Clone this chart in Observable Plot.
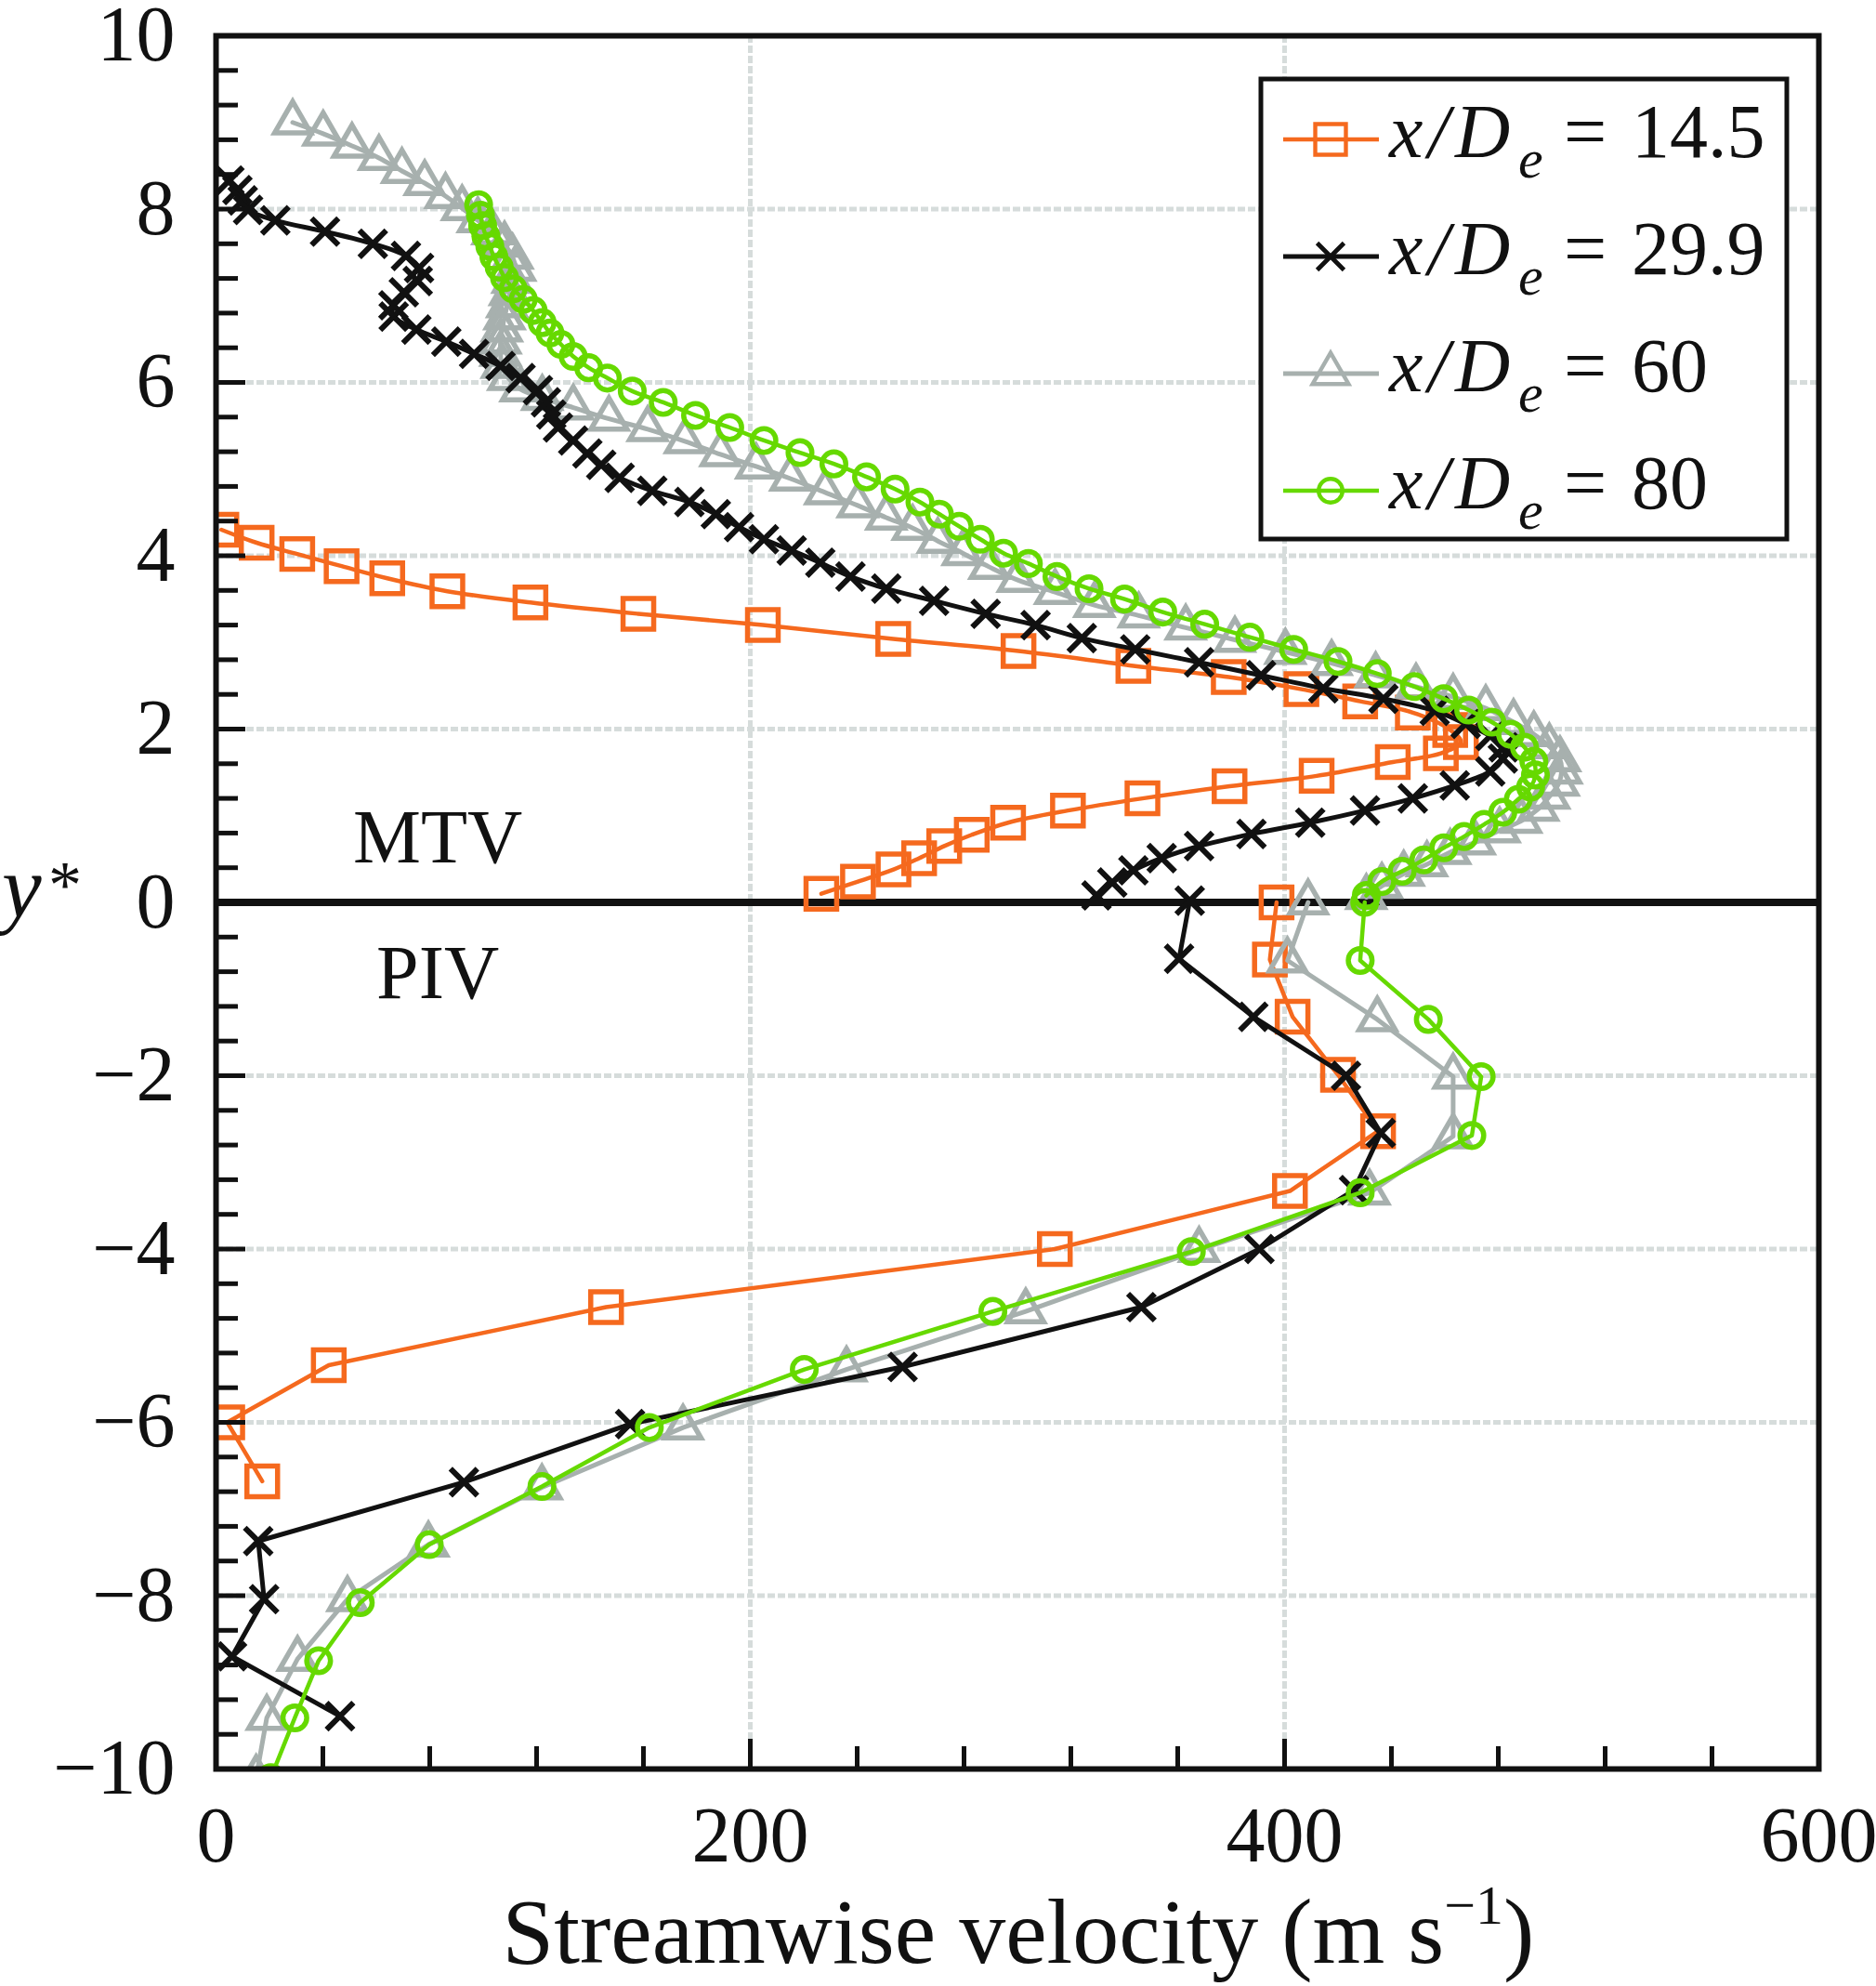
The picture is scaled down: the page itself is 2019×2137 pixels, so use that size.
<!DOCTYPE html>
<html>
<head>
<meta charset="utf-8">
<script src="https://cdn.jsdelivr.net/npm/d3@7"></script>
<script src="https://cdn.jsdelivr.net/npm/@observablehq/plot@0.6"></script>
<style>
  html, body { margin: 0; padding: 0; background: #fff; }
  #wrap { position: relative; width: 2019px; height: 2137px; overflow: hidden; background: #fff; }
  #wrap svg { display: block; }
  #overlay { position: absolute; left: 0; top: 0; pointer-events: none; }
</style>
</head>
<body>
<div id="wrap"></div>
<script>
// ---------- series meta ----------
const seriesLabels  = ["14.5", "29.9", "60", "80"];
const seriesColors  = ["#f5691e", "#111111", "#a7b0ae", "#66d900"];
const seriesSymbols = ["square", "times", "triangle", "circle"];

// ---------- MTV data (y* > 0) ----------
const mtvY_145 = [4.30,4.15,4.02,3.88,3.74,3.59,3.46,3.33,3.20,3.04,2.90,2.73,2.60,2.46,2.32,2.19,1.99,1.85,1.72,1.62,1.46,1.34,1.20,1.06,0.92,0.78,0.65,0.51,0.38,0.24,0.10];
const mtvU_145 = [2.0,15.2,30.4,47.0,64.1,86.6,117.7,158.1,204.7,253.5,300.4,343.4,379.1,406.3,428.3,448.0,462.0,466.0,458.5,440.5,412.0,379.4,346.8,318.9,296.5,282.9,272.6,263.2,253.6,240.3,226.6];

const mtvY_299 = [8.33,8.22,8.10,7.99,7.87,7.74,7.60,7.46,7.32,7.17,7.04,6.89,6.76,6.61,6.47,6.33,6.19,6.05,5.91,5.77,5.63,5.48,5.33,5.18,5.05,4.90,4.75,4.62,4.48,4.33,4.19,4.06,3.92,3.76,3.62,3.48,3.33,3.20,3.05,2.92,2.77,2.62,2.47,2.35,2.21,2.06,1.92,1.79,1.66,1.51,1.35,1.20,1.06,0.92,0.79,0.65,0.51,0.37,0.23,0.08];
const mtvU_299 = [5,8,10,12,22.2,40.8,58.7,71.1,76,75.5,70.3,66.4,66.5,75,86.2,96.6,106.5,114,120.5,123.5,125.5,128,133.7,139,144.2,151.1,163.3,177.2,187.1,195.8,205.1,215.5,226.2,237.5,250.9,268.8,288.1,306.8,324.1,344.1,368,391.2,414.5,437,456.2,467.8,477,482,481.7,477,463.7,448,430.1,409.6,387.6,368,354,343.4,335.5,329.6];

const mtvY_60 = [9.00,8.87,8.73,8.59,8.44,8.30,8.15,8.01,7.87,7.73,7.59,7.45,7.31,7.17,7.03,6.89,6.75,6.61,6.47,6.33,6.19,6.05,5.92,5.82,5.71,5.58,5.46,5.32,5.17,5.03,4.89,4.73,4.58,4.44,4.32,4.17,4.03,3.87,3.72,3.58,3.43,3.31,3.17,3.03,2.89,2.76,2.62,2.49,2.37,2.24,2.08,1.94,1.80,1.65,1.51,1.37,1.22,1.08,0.94,0.83,0.69,0.58,0.44,0.33,0.19,0.06];
const mtvU_60 = [28.7,40.1,50.9,61,69.6,78.1,85.9,92.1,98,103.5,108,111,112,111,110,109,108,107,106.5,106.5,107,109.4,114,122.1,133.7,147.1,161.6,175.5,188.8,202.2,215,228,240.2,250.9,260.8,270.2,279.5,289.5,300.1,314.1,328.8,345.4,363,381.4,400.3,417.6,434.1,449.2,463.1,475.3,485.7,493.3,499.1,503.1,503.7,502.6,499.1,495,488.6,480.5,471.2,462,453.3,444.6,436.4,430.6];

const mtvY_80 = [8.05,7.93,7.81,7.69,7.57,7.45,7.33,7.21,7.08,6.96,6.83,6.69,6.57,6.44,6.30,6.17,6.05,5.90,5.77,5.62,5.48,5.33,5.19,5.06,4.91,4.77,4.62,4.48,4.34,4.19,4.03,3.91,3.76,3.62,3.50,3.35,3.21,3.06,2.92,2.78,2.64,2.49,2.35,2.22,2.08,1.94,1.79,1.63,1.47,1.33,1.19,1.04,0.90,0.76,0.63,0.49,0.36,0.24,0.08];
const mtvU_80 = [98.3,99,99.8,101,102.5,104,106,108,111.2,115,118.7,122.1,125,129.1,133.7,139.5,146.5,155.8,167.4,179.5,192.3,205.1,218.6,231.3,243.5,254.2,263.5,270.8,278.2,286.1,294.8,304.1,314.8,326.8,340.1,354.4,370.1,387,403.4,420,434.7,448.6,459.6,468.9,477.6,484.6,489.8,493.3,493.9,492.1,487.5,481.7,474.7,467.2,459.6,452.1,444,436.4,430.6];

// ---------- PIV data (y* < 0) ----------
const pivY_145 = [0.0,-0.66,-1.32,-1.99,-2.64,-3.33,-4.0,-4.67,-5.34,-6.0,-6.68];
const pivU_145 = [397,394.5,403,420,435,402,314,146,42.2,4.2,17.3];

const pivY_299 = [0.02,-0.65,-1.32,-2.0,-2.66,-3.32,-4.0,-4.67,-5.36,-6.02,-6.69,-7.37,-8.04,-8.7,-9.39];
const pivU_299 = [364.5,360.5,388.3,423,436,426,390.6,346.4,257,155,92.8,15.8,18,6,46.4];

const pivY_60 = [0.0,-0.67,-1.35,-2.01,-2.7,-3.35,-4.01,-4.72,-5.39,-6.06,-6.75,-7.41,-8.04,-8.73,-9.41,-10.1];
const pivU_60 = [408.8,401.1,434.7,463.1,463.1,431.8,368,303.1,236,174.8,122,79.5,49.2,30.5,19,15];

const pivY_80 = [0.0,-0.67,-1.35,-2.01,-2.69,-3.35,-4.03,-4.72,-5.39,-6.06,-6.74,-7.41,-8.08,-8.75,-9.41,-10.1];
const pivU_80 = [430,428.3,453.8,473.6,470.1,428.3,365.1,290.8,220.2,162.2,122,79.8,54,38.4,29.5,20.5];

// ---------- ticks / annotations ----------
const xMajorTicks = [0, 200, 400, 600];
const yMajorTicks = [-10, -8, -6, -4, -2, 0, 2, 4, 6, 8, 10];
const xGridTicks = [200, 400];
const yGridTicks = [-8, -6, -4, -2, 2, 4, 6, 8];
const xMinorTicks = d3.range(0, 601, 40).filter(v => v % 200 !== 0);
const yMinorTicks = d3.range(-50, 51, 2).map(k => k / 5).filter(v => Math.abs(v % 2) > 1e-9);
const regionLabels = [{text: "MTV", u: 83, y: 0.74}, {text: "PIV", u: 83, y: -0.82}];

// ---------- style ----------
const lineWidth = [4.5, 5, 5, 4.5];
const markWidth = [5.5, 6, 5.5, 5.5];
const markR     = [18.6, 13.2, 14.4, 12.8];

const mtvY = [mtvY_145, mtvY_299, mtvY_60, mtvY_80];
const mtvU = [mtvU_145, mtvU_299, mtvU_60, mtvU_80];
const pivY = [pivY_145, pivY_299, pivY_60, pivY_80];
const pivU = [pivU_145, pivU_299, pivU_60, pivU_80];
const toRows = (ys, us) => ys.map((y, i) => ({y, u: us[i]}));

const fmt = d => d < 0 ? "\u2212" + Math.abs(d) : String(d);
const gridStyle = {stroke: "#d6dcdb", strokeOpacity: 1, strokeWidth: 5, strokeDasharray: "8,3"};
const serif = "'Liberation Serif', 'Times New Roman', serif";

const drawOrder = [0, 2, 1, 3];
const seriesMarks = drawOrder.flatMap(i => {
  const m = toRows(mtvY[i], mtvU[i]);
  const p = toRows(pivY[i], pivU[i]);
  const c = seriesColors[i];
  return [
    Plot.line(m, {x: "u", y: "y", stroke: c, strokeWidth: lineWidth[i], curve: "catmull-rom", clip: true}),
    Plot.line(p, {x: "u", y: "y", stroke: c, strokeWidth: lineWidth[i], clip: true}),
    Plot.dot(m.concat(p), {x: "u", y: "y", symbol: seriesSymbols[i], r: markR[i], stroke: c,
      strokeWidth: markWidth[i], fill: "none", clip: true})
  ];
});

const chart = Plot.plot({
  width: 2019,
  height: 2137,
  marginLeft: 232,
  marginRight: 62,
  marginTop: 38,
  marginBottom: 234,
  style: {fontFamily: serif, fontSize: "84px", color: "#111", background: "#fff"},
  x: {domain: [0, 600], label: null},
  y: {domain: [-10, 10], label: null},
  marks: [
    Plot.gridX(xGridTicks, gridStyle),
    Plot.gridY(yGridTicks, gridStyle),
    Plot.ruleY([0], {stroke: "#111", strokeWidth: 8}),
    ...seriesMarks,
    Plot.text(regionLabels, {x: "u", y: "y", text: "text", fontSize: 82, fill: "#111", fontFamily: serif}),
    Plot.frame({stroke: "#111", strokeWidth: 6}),
    Plot.axisX(xMinorTicks, {anchor: "bottom", tickSize: -24, strokeWidth: 5, tickFormat: () => "", label: null}),
    Plot.axisX(xMajorTicks, {anchor: "bottom", tickSize: -32, strokeWidth: 5, tickPadding: 72, fontSize: 84, fontFamily: serif, tickFormat: fmt, label: null}),
    Plot.axisY(yMinorTicks, {anchor: "left", tickSize: -24, strokeWidth: 5, tickFormat: () => "", label: null}),
    Plot.axisY(yMajorTicks, {anchor: "left", tickSize: -32, strokeWidth: 5, tickPadding: 76, fontSize: 84, fontFamily: serif, tickFormat: fmt, label: null})
  ]
});
document.getElementById("wrap").appendChild(chart);
d3.select(chart).selectAll("text").style("font-variant-numeric", "normal");

// ---------- overlay: axis titles and legend ----------
const ov = d3.select("#wrap").append("svg").attr("id", "overlay")
  .attr("width", 2019).attr("height", 2137)
  .style("font-family", serif)
  .attr("fill", "#111");

ov.append("text").attr("x", 2).attr("y", 987).attr("font-size", 96).attr("font-style", "italic").text("y");
ov.append("text").attr("x", 52).attr("y", 976).attr("font-size", 72).text("*");

const xt = ov.append("text").attr("x", 1096).attr("y", 2112).attr("font-size", 100).attr("text-anchor", "middle");
xt.append("tspan").text("Streamwise velocity (m s");
xt.append("tspan").attr("font-size", 60).attr("dy", -42).text("\u22121");
xt.append("tspan").attr("dy", 42).text(")");

const lg = ov.append("g");
lg.append("rect").attr("x", 1357).attr("y", 85).attr("width", 566).attr("height", 495)
  .attr("fill", "#fff").attr("stroke", "#111").attr("stroke-width", 5);
const symMap = {square: d3.symbolSquare, times: d3.symbolTimes, triangle: d3.symbolTriangle, circle: d3.symbolCircle};
seriesLabels.forEach((lab, i) => {
  const ly = 150 + i * 126;
  const by = ly + 19;
  const c = seriesColors[i];
  lg.append("line").attr("x1", 1381).attr("x2", 1484).attr("y1", ly).attr("y2", ly)
    .attr("stroke", c).attr("stroke-width", lineWidth[i]);
  lg.append("path").attr("transform", `translate(1432,${ly})`)
    .attr("d", d3.symbol(symMap[seriesSymbols[i]], Math.PI * markR[i] * markR[i])())
    .attr("fill", "none").attr("stroke", c).attr("stroke-width", markWidth[i] * 0.8);
  lg.append("text").attr("x", 1495).attr("y", by).attr("font-size", 82).attr("font-style", "italic").text("x");
  lg.append("text").attr("x", 1537).attr("y", by).attr("font-size", 82).attr("font-style", "italic").text("/");
  lg.append("text").attr("x", 1566).attr("y", by).attr("font-size", 82).attr("font-style", "italic").text("D");
  lg.append("text").attr("x", 1634).attr("y", by + 22).attr("font-size", 60).attr("font-style", "italic").text("e");
  lg.append("text").attr("x", 1683).attr("y", by).attr("font-size", 82).text("=");
  lg.append("text").attr("x", 1756).attr("y", by).attr("font-size", 82).text(lab);
});
</script>
</body>
</html>
